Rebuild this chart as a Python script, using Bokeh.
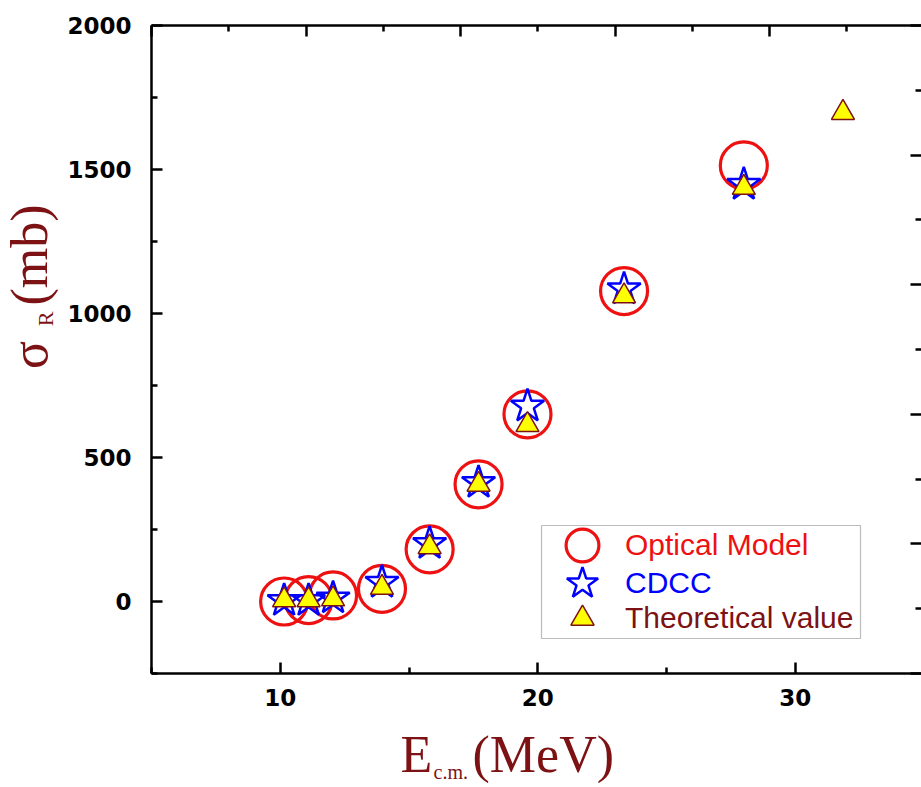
import math
from bokeh.plotting import figure
from bokeh.layouts import column, row
from bokeh.models import (Range1d, LinearAxis, FixedTicker, Legend, LegendItem,
                          BoxAnnotation)
from bokeh.core.properties import value
from bokeh.embed import file_html
from bokeh.resources import INLINE

# ---------------- data ----------------
om_energy = [10.15, 11.1, 12.05, 13.95, 15.8, 17.7, 19.6, 23.35, 28.0]
om_sigma = [0, 5, 21, 44, 181, 407, 650, 1078, 1514]

cdcc_energy = [10.15, 11.1, 12.05, 13.95, 15.8, 17.7, 19.6, 23.35, 28.0]
cdcc_sigma = [3, 3, 12, 66, 201, 413, 678, 1085, 1448]

theo_energy = [10.15, 11.1, 12.05, 13.95, 15.8, 17.7, 19.6, 23.35, 28.0, 31.85]
theo_sigma = [5, 5, 8, 48, 189, 406, 613, 1060, 1437, 1697]

x_major = [10, 20, 30]
x_minor = [5, 15, 25, 35]
y_major = [0, 500, 1000, 1500, 2000]
y_minor = [-250, 250, 750, 1250, 1750]
aux_major = [0, 2, 4, 6, 8, 10]
aux_minor = [1, 3, 5, 7, 9]

series_labels = ["Optical Model", "CDCC", "Theoretical value"]
x_title = ["E", "c.m.", "(MeV)"]
y_title = ["σ", "R", "(mb)"]

# ---------------- style ----------------
RED = "#EE1111"
BLUE = "#0000FF"
MAROON = "#7D1214"
YELLOW = "#FFFF00"

W, H = 921, 787
LW = 60          # left strip (y title)
BH = 67          # bottom strip (x title)
MW, MH = W - LW, H - BH
X0, X1 = 5.0, 34.9
Y0, Y1 = -250.0, 2000.0

p = figure(width=MW, height=MH, output_backend="svg", toolbar_location=None,
           x_range=Range1d(X0, X1), y_range=Range1d(Y0, Y1),
           min_border_left=151 - LW, min_border_right=0, min_border_top=25,
           min_border_bottom=MH - 673, x_axis_type=None, y_axis_type=None)
p.outline_line_color = None
p.background_fill_color = "white"
p.border_fill_color = "white"

p.extra_x_ranges = {"top": Range1d(0, 10 * (X1 - X0) / 30.0)}
p.extra_y_ranges = {"right": Range1d(0, 10)}


def style(ax, show_labels):
    ax.axis_line_width = 2.5
    ax.axis_line_color = "black"
    ax.major_tick_in = 11
    ax.major_tick_out = 0
    ax.minor_tick_in = 6
    ax.minor_tick_out = 0
    ax.major_tick_line_width = 2.5
    ax.minor_tick_line_width = 2.5
    ax.major_tick_line_color = "black"
    ax.minor_tick_line_color = "black"
    if show_labels:
        ax.major_label_text_font = "DejaVu Sans"
        ax.major_label_text_font_style = "bold"
        ax.major_label_text_font_size = "23px"
        ax.major_label_text_color = "black"
    else:
        ax.major_label_text_font_size = "0px"
        ax.major_label_text_color = None
        ax.major_label_standoff = 0
        ax.axis_label_standoff = 0


xb = LinearAxis(ticker=FixedTicker(ticks=x_major, minor_ticks=x_minor))
style(xb, True)
xb.major_label_standoff = 15
p.add_layout(xb, "below")

yl = LinearAxis(ticker=FixedTicker(ticks=y_major, minor_ticks=y_minor))
style(yl, True)
yl.major_label_standoff = 20
p.add_layout(yl, "left")

xt = LinearAxis(x_range_name="top", ticker=FixedTicker(ticks=aux_major, minor_ticks=aux_minor))
style(xt, False)
p.add_layout(xt, "above")

yr = LinearAxis(y_range_name="right", ticker=FixedTicker(ticks=aux_major, minor_ticks=aux_minor))
style(yr, False)
yr.axis_line_color = None
p.add_layout(yr, "right")

# ---------------- data marks ----------------
r_om = p.scatter(om_energy, om_sigma, marker="circle", size=47, fill_color=None,
                 line_color=RED, line_width=3.2)
r_cd = p.scatter(cdcc_energy, cdcc_sigma, marker="star", size=35, fill_color=None,
                 line_color=BLUE, line_width=2.5)
r_th = p.scatter(theo_energy, theo_sigma, marker="triangle", size=23, fill_color=YELLOW,
                 line_color=MAROON, line_width=1.5)


# ---------------- legend ----------------
def add_legend(label, rend, color, gsize, loc, standoff):
    leg = Legend(items=[LegendItem(label=label, renderers=[rend])], location=loc,
                 glyph_width=gsize, glyph_height=gsize, label_height=gsize,
                 label_standoff=standoff, label_text_font="Liberation Sans",
                 label_text_font_size="30px", label_text_color=color,
                 padding=0, margin=0, spacing=0, border_line_color=None,
                 background_fill_alpha=0)
    p.add_layout(leg)


add_legend(series_labels[0], r_om, RED, 82, (390, 87), 2)
add_legend(series_labels[1], r_cd, BLUE, 82, (390, 49), 2)
add_legend(series_labels[2], r_th, MAROON, 58, (402, 26), 14)

p.add_layout(BoxAnnotation(left=390, right=709, bottom=35, top=148,
                           left_units="screen", right_units="screen",
                           top_units="screen", bottom_units="screen",
                           fill_alpha=0, line_color="#222222", line_width=1.2))


# ---------------- axis title strips ----------------
def strip(w, h):
    s = figure(width=w, height=h, output_backend="svg", toolbar_location=None,
               x_range=Range1d(0, w), y_range=Range1d(0, h),
               x_axis_type=None, y_axis_type=None, min_border=0)
    s.outline_line_color = None
    s.background_fill_color = "white"
    s.border_fill_color = "white"
    return s


def put(s, x, y, text, size, align="left", angle=0.0):
    s.text(x=[x], y=[y], text=[text], angle=angle,
           text_font=value("Liberation Serif"), text_font_size=value(size),
           text_color=MAROON, text_align=align, text_baseline="middle")


# y title (rotated, reads bottom to top); positions are canvas pixels
left = strip(LW, MH)
put(left, 29, MH - 366, y_title[0], "52px", "center", math.pi / 2)
put(left, 45, MH - 326, y_title[1], "22px", "center", math.pi / 2)
put(left, 29, MH - 255, y_title[2], "52px", "center", math.pi / 2)

# x title
bottom = strip(W, BH)
put(bottom, 400, H - 754, x_title[0], "52px")
put(bottom, 433, H - 771, x_title[1], "20px")
put(bottom, 472, H - 754, x_title[2], "52px")

layout = column(row(left, p), bottom)
open("out.html", "w").write(file_html(layout, INLINE))
